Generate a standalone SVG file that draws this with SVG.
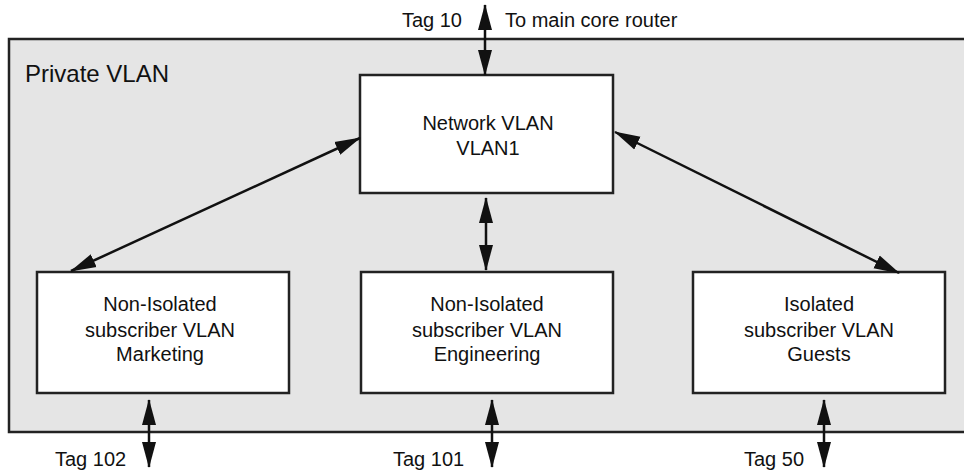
<svg xmlns="http://www.w3.org/2000/svg" width="964" height="471" viewBox="0 0 964 471">
<defs>
<marker id="ah" markerUnits="userSpaceOnUse" markerWidth="26" markerHeight="16" viewBox="0 0 26 16" refX="25" refY="8" orient="auto-start-reverse">
<path d="M0,1 L26,8 L0,15 z" fill="#111"/>
</marker>
<style>
text{font-family:"Liberation Sans",Arial,sans-serif;fill:#111;font-size:20px}
.box{fill:#fff;stroke:#222;stroke-width:2.5}
.c{text-anchor:middle}
.conn line{stroke:#111;stroke-width:2.5;marker-start:url(#ah);marker-end:url(#ah)}
</style>
</defs>
<rect id="privatevlan" x="9" y="39" width="970" height="393" fill="#e5e5e5" stroke="#222" stroke-width="2.5"/>
<text x="25" y="82" style="font-size:24px">Private VLAN</text>
<g id="network">
<rect class="box" x="360" y="75" width="253" height="118"/>
<text class="c" x="488" y="130">Network VLAN</text>
<text class="c" x="488" y="155">VLAN1</text>
</g>
<g id="marketing">
<rect class="box" x="37" y="272" width="252" height="121"/>
<text class="c" x="160" y="311">Non-Isolated</text>
<text class="c" x="160" y="337">subscriber VLAN</text>
<text class="c" x="160" y="361">Marketing</text>
</g>
<g id="engineering">
<rect class="box" x="361" y="272" width="252" height="121"/>
<text class="c" x="487" y="311">Non-Isolated</text>
<text class="c" x="487" y="337">subscriber VLAN</text>
<text class="c" x="487" y="361">Engineering</text>
</g>
<g id="guests">
<rect class="box" x="693" y="272" width="252" height="121"/>
<text class="c" x="819" y="311">Isolated</text>
<text class="c" x="819" y="337">subscriber VLAN</text>
<text class="c" x="819" y="361">Guests</text>
</g>
<g id="connectors" class="conn">
<line x1="485" y1="5" x2="485" y2="75"/>
<line x1="486" y1="198" x2="486" y2="270"/>
<line x1="360" y1="138" x2="71" y2="271"/>
<line x1="615" y1="132" x2="899" y2="273"/>
<line x1="149" y1="400" x2="149" y2="467"/>
<line x1="492" y1="400" x2="492" y2="467"/>
<line x1="824" y1="400" x2="824" y2="467"/>
</g>
<g id="labels">
<text x="462" y="27" text-anchor="end">Tag 10</text>
<text x="505" y="27">To main core router</text>
<text x="55" y="466">Tag 102</text>
<text x="393" y="466">Tag 101</text>
<text x="744" y="466">Tag 50</text>
</g>
</svg>
